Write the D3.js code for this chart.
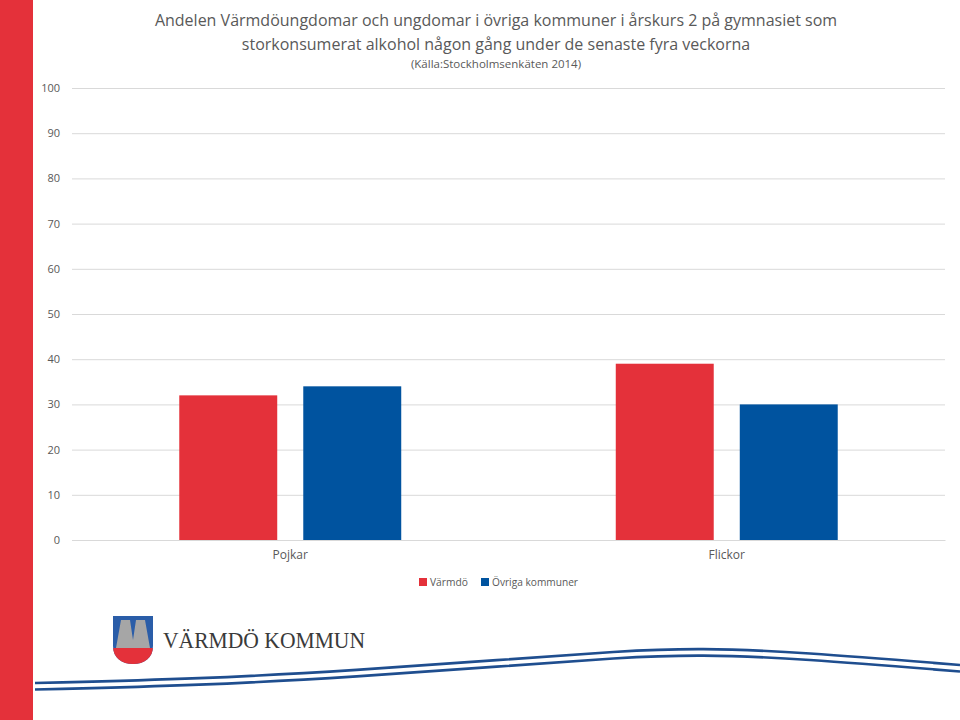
<!DOCTYPE html>
<html><head><meta charset="utf-8">
<script src="https://cdn.jsdelivr.net/npm/d3@7/dist/d3.min.js"></script>
<style>body{margin:0;background:#fff}svg{display:block}text{font-family:"Open Sans",Lato,sans-serif}</style>
</head><body><svg id="c" width="960" height="720"></svg>
<script>
const categories = ["Pojkar", "Flickor"];
const seriesNames = ["Värmdö", "Övriga kommuner"];
const varmdo = [32, 39];
const ovriga = [34, 30];
const yTicks = [0, 10, 20, 30, 40, 50, 60, 70, 80, 90, 100];
const titleLines = ["Andelen Värmdöungdomar och ungdomar i övriga kommuner i årskurs 2 på gymnasiet som",
  "storkonsumerat alkohol någon gång under de senaste fyra veckorna"];
const sourceText = "(Källa:Stockholmsenkäten 2014)";
const logoText = "VÄRMDÖ KOMMUN";

(function () {
const colors = ["#E4313A", "#00539F"];
const svg = d3.select("#c");
const pLeft = 72, pRight = 945, pTop = 88, pBottom = 540;

svg.append("rect").attr("x", 0).attr("y", 0).attr("width", 33).attr("height", 720).attr("fill", "#E4313A");

const y = d3.scaleLinear().domain([0, 100]).range([pBottom, pTop]);
const x0 = d3.scaleBand().domain(categories).range([pLeft, pRight]);
const x1 = d3.scaleBand().domain(seriesNames).range([0, x0.bandwidth()]).paddingInner(0.21).paddingOuter(0.865);

const yAxis = d3.axisLeft(y).tickValues(yTicks).tickSize(-(pRight - pLeft)).tickPadding(12);
const ga = svg.append("g").attr("transform", `translate(${pLeft},0)`).call(yAxis);
ga.select(".domain").remove();
ga.selectAll(".tick line").attr("stroke", "#D9D9D9").attr("stroke-width", 1);
ga.selectAll(".tick text").attr("fill", "#595959").style("font-size", "11px").attr("font-family", "Open Sans");

const data = seriesNames.map((s, i) => ({ s, vals: i === 0 ? varmdo : ovriga }));
data.forEach((d, si) => {
  svg.append("g").selectAll("rect").data(categories).join("rect")
    .attr("x", (c) => x0(c) + x1(d.s))
    .attr("y", (c, ci) => y(d.vals[ci]))
    .attr("width", x1.bandwidth())
    .attr("height", (c, ci) => pBottom - y(d.vals[ci]))
    .attr("fill", colors[si]);
});

const xAxis = d3.axisBottom(x0).tickSize(0).tickPadding(10);
const gx = svg.append("g").attr("transform", `translate(0,${pBottom})`).call(xAxis);
gx.select(".domain").attr("stroke", "#D9D9D9");
gx.selectAll(".tick text").attr("fill", "#595959").style("font-size", "12px").attr("font-family", "Open Sans");

const cx = 496;
svg.append("text").attr("x", cx).attr("y", 26).attr("text-anchor", "middle").attr("fill", "#595959")
  .style("font-size", "16px").text(titleLines[0]);
svg.append("text").attr("x", cx).attr("y", 50).attr("text-anchor", "middle").attr("fill", "#595959")
  .style("font-size", "16px").text(titleLines[1]);
svg.append("text").attr("x", cx).attr("y", 68).attr("text-anchor", "middle").attr("fill", "#595959")
  .style("font-size", "11.5px").text(sourceText);

const lg = svg.append("g");
const legendPos = [419, 481];
seriesNames.forEach((s, i) => {
  lg.append("rect").attr("x", legendPos[i]).attr("y", 578).attr("width", 8).attr("height", 8).attr("fill", colors[i]);
  lg.append("text").attr("x", legendPos[i] + 11).attr("y", 586).attr("fill", "#595959").style("font-size", "11px")
    .attr("textLength", i === 0 ? 38 : 86).attr("lengthAdjust", "spacingAndGlyphs").text(s);
});

const lgo = svg.append("g").attr("transform", "translate(113,616)");
const shield = "M0,0 H40 V30 C40,42 31,48 20,48 C9,48 0,42 0,30 Z";
const clip = svg.append("defs").append("clipPath").attr("id", "sh");
clip.append("path").attr("d", shield);
const inner = lgo.append("g").attr("clip-path", "url(#sh)");
inner.append("rect").attr("x", 0).attr("y", 0).attr("width", 40).attr("height", 48).attr("fill", "#2A5DA8");
inner.append("rect").attr("x", 0).attr("y", 32).attr("width", 40).attr("height", 20).attr("fill", "#E4313A");
inner.append("path").attr("d", "M3,32 L8,4 H17 L20,24 L23,4 H32 L37,32 Z").attr("fill", "#A6A6A6");
svg.append("text").attr("x", 163).attr("y", 648).attr("fill", "#3a3a3a")
  .style("font-family", "'Liberation Serif', serif")
  .style("font-size", "23px").attr("textLength", 202).attr("lengthAdjust", "spacingAndGlyphs").text(logoText);

const wave1 = [[35, 683], [200, 679], [360, 670], [500, 660], [620, 651], [700, 648], [800, 652], [960, 665]];
const wave2 = wave1.map(p => [p[0], p[1] + 6.5]);
const line = d3.line().curve(d3.curveBasis);
[wave1, wave2].forEach(w => {
  svg.append("path").attr("d", line(w)).attr("fill", "none").attr("stroke", "#1F4E8F").attr("stroke-width", 2.6);
});
})();
</script></body></html>
